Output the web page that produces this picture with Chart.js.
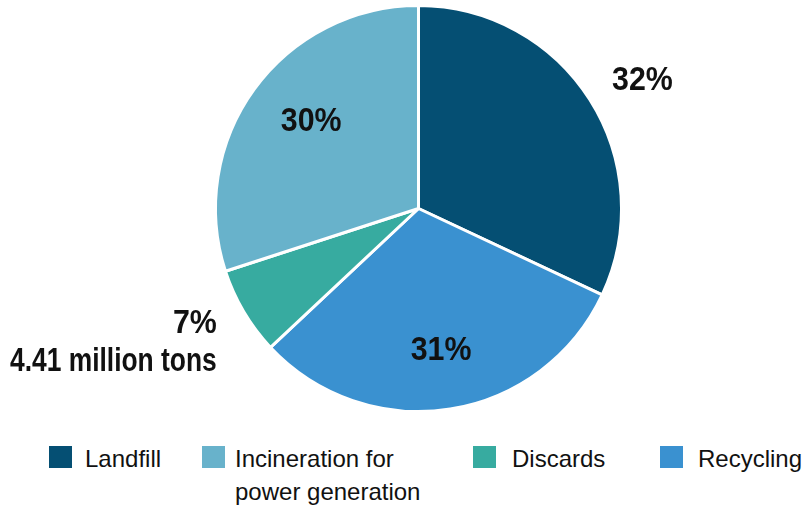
<!DOCTYPE html>
<html>
<head>
<meta charset="utf-8">
<script src="https://cdn.jsdelivr.net/npm/chart.js@4"></script>
<style>
  html, body { margin: 0; padding: 0; background: #fff; }
  body { width: 803px; height: 506px; position: relative; overflow: hidden;
         font-family: "Liberation Sans", Arial, sans-serif; color: #111; }
  #wrap { position: absolute; left: 0; top: 0; width: 803px; height: 430px; }
  .sw { position: absolute; top: 446px; width: 23px; height: 22px; }
  .tx { position: absolute; top: 442px; font-size: 24px; line-height: 33px; white-space: nowrap; }
</style>
</head>
<body>
<div id="wrap"><canvas id="pie"></canvas></div>
<div id="legend"></div>
<script>
// Waste disposal shares, drawn clockwise from 12 o'clock
const sliceNames = ['Landfill', 'Recycling', 'Discards', 'Incineration for power generation'];
const sliceShares = [32, 31, 7, 30];
const sliceColors = ['#054f73', '#3a91d0', '#37aba0', '#68b2cb'];
const sliceNotes = ['', '', '4.41 million tons', ''];

// Legend order and wrapping
const legendOrder = ['Landfill', 'Incineration for power generation', 'Discards', 'Recycling'];
const legendLines = [['Landfill'], ['Incineration for', 'power generation'], ['Discards'], ['Recycling']];
const swatchLeft = [49, 202, 473, 660];
const textLeft = [85, 235, 512, 698];

// label placement: radius as fraction of outer radius, plus a small turn in degrees
const labelReach = [1.27, 0.71, 1.12, 0.68];
const labelTurn = [2.7, 0, 0, 3];

const LABEL_FONT = 'bold 33px "Liberation Sans", Arial, sans-serif';

// narrow the bold face a bit so it reads like a condensed type
function squeezedText(ctx, txt, x, y, squeeze) {
  ctx.save();
  ctx.translate(x, y);
  ctx.scale(squeeze, 1);
  ctx.fillText(txt, 0, 0);
  ctx.restore();
}

const pctLabels = {
  id: 'pctLabels',
  afterDatasetsDraw(chart) {
    const ctx = chart.ctx;
    const arcs = chart.getDatasetMeta(0).data;
    ctx.save();
    ctx.fillStyle = '#111';
    ctx.textBaseline = 'middle';
    ctx.font = LABEL_FONT;
    arcs.forEach((arc, i) => {
      const mid = (arc.startAngle + arc.endAngle) / 2 + labelTurn[i] * Math.PI / 180;
      const r = arc.outerRadius * labelReach[i];
      const x = arc.x + Math.cos(mid) * r;
      const y = arc.y + Math.sin(mid) * r;
      const txt = sliceShares[i] + '%';
      if (sliceNotes[i]) {
        ctx.textAlign = 'right';
        squeezedText(ctx, txt, x - 6, y, 0.92);
        squeezedText(ctx, sliceNotes[i], x - 6, y + 38, 0.8);
      } else {
        ctx.textAlign = 'center';
        squeezedText(ctx, txt, x, y, 0.92);
      }
    });
    ctx.restore();
  }
};

new Chart(document.getElementById('pie'), {
  type: 'pie',
  data: {
    labels: sliceNames,
    datasets: [{
      data: sliceShares,
      backgroundColor: sliceColors,
      borderColor: '#ffffff',
      borderWidth: 3
    }]
  },
  options: {
    responsive: true,
    maintainAspectRatio: false,
    animation: false,
    layout: { padding: { left: 212, right: 178, top: 4, bottom: 17 } },
    plugins: { legend: { display: false }, tooltip: { enabled: false } }
  },
  plugins: [pctLabels]
});

const legend = document.getElementById('legend');
legendOrder.forEach((name, k) => {
  const i = sliceNames.indexOf(name);
  const sw = document.createElement('div');
  sw.className = 'sw';
  sw.style.left = swatchLeft[k] + 'px';
  sw.style.background = sliceColors[i];
  const tx = document.createElement('div');
  tx.className = 'tx';
  tx.style.left = textLeft[k] + 'px';
  tx.innerHTML = legendLines[k].join('<br>');
  legend.appendChild(sw);
  legend.appendChild(tx);
});
</script>
</body>
</html>
